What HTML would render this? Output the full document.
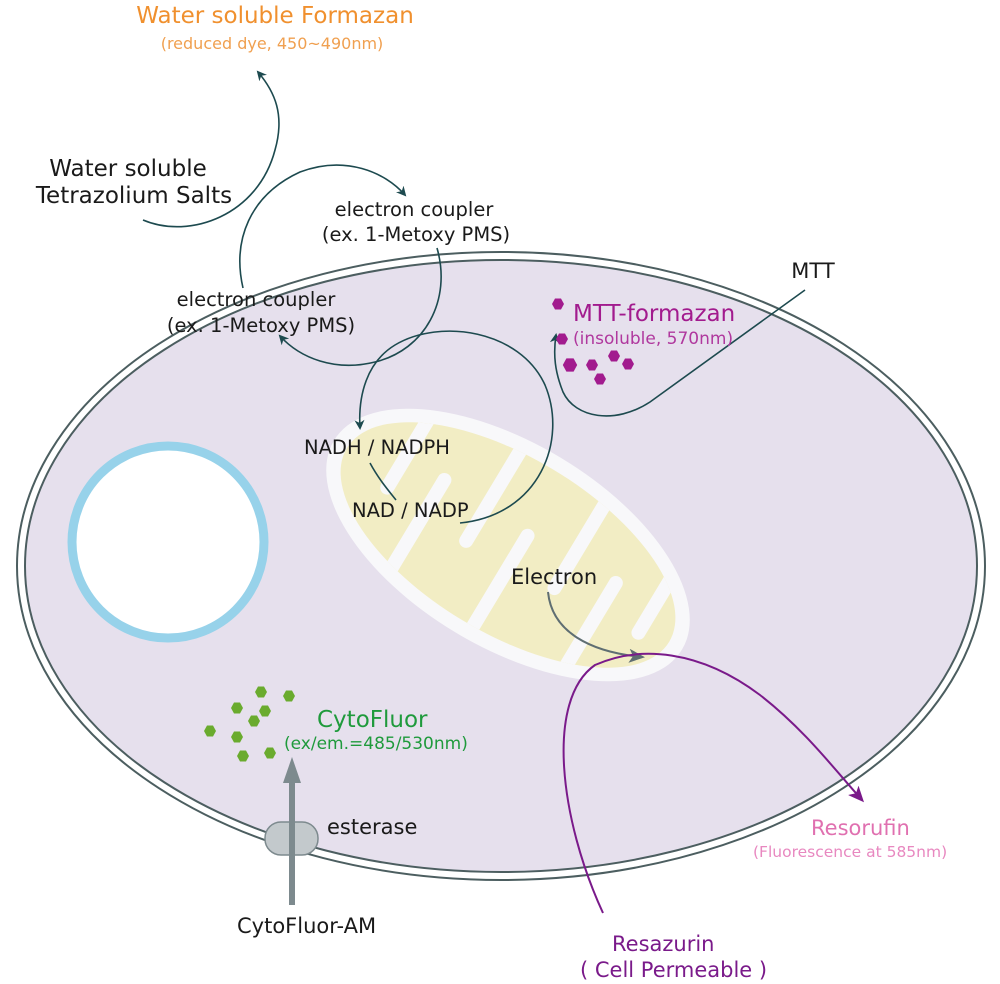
<!DOCTYPE html>
<html><head><meta charset="utf-8"><style>
html,body{margin:0;padding:0;background:#fff}
svg{display:block}
text{font-family:"DejaVu Sans","Liberation Sans",sans-serif}
</style></head><body>
<svg width="1000" height="984" viewBox="0 0 1000 984" xmlns="http://www.w3.org/2000/svg">
<defs>
<marker id="ad" markerWidth="10" markerHeight="10" refX="8" refY="5" orient="auto" markerUnits="userSpaceOnUse"><path d="M0,0 L10,5 L0,10 L3,5 Z" fill="#1d4a4f"/></marker>
<marker id="ag" markerWidth="16" markerHeight="14" refX="13" refY="7" orient="auto" markerUnits="userSpaceOnUse"><path d="M0,0 L16,7 L0,14 L4,7 Z" fill="#5f6e72"/></marker>
<marker id="ap" markerWidth="16" markerHeight="14" refX="13" refY="7" orient="auto" markerUnits="userSpaceOnUse"><path d="M0,0 L16,7 L0,14 L4,7 Z" fill="#7a1a8a"/></marker>
<clipPath id="mc"><ellipse cx="0" cy="0" rx="188" ry="88"/></clipPath>
<path id="hx" d="M-6,0 L-3,-5.5 L3,-5.5 L6,0 L3,5.5 L-3,5.5 Z"/>
</defs>
<!-- cell -->
<ellipse cx="501" cy="566" rx="484" ry="314" fill="none" stroke="#4c5e60" stroke-width="2"/>
<ellipse cx="501" cy="566" rx="479" ry="309" fill="none" stroke="#fff" stroke-width="5"/>
<ellipse cx="501" cy="566" rx="476" ry="306" fill="#e6e0ed" stroke="#4c5e60" stroke-width="2"/>
<!-- nucleus -->
<circle cx="168" cy="542" r="96" fill="#fff" stroke="#97d2ea" stroke-width="9"/>
<!-- mitochondrion -->
<g transform="translate(508,545) rotate(31)">
<ellipse cx="0" cy="0" rx="203" ry="102" fill="#f8f8fa"/>
<g clip-path="url(#mc)">
<rect x="-200" y="-100" width="400" height="200" fill="#f2edc4"/>
<g fill="#f8f8fa">
<rect x="-140" y="-110" width="14" height="130" rx="7"/>
<rect x="-95" y="-30" width="14" height="140" rx="7"/>
<rect x="-45" y="-110" width="14" height="135" rx="7"/>
<rect x="5" y="-25" width="14" height="140" rx="7"/>
<rect x="55" y="-110" width="14" height="130" rx="7"/>
<rect x="105" y="-30" width="14" height="140" rx="7"/>
<rect x="150" y="-110" width="14" height="125" rx="7"/>
</g>
</g>
</g>
<!-- esterase -->
<line x1="292" y1="905" x2="292" y2="775" stroke="#7d8a8e" stroke-width="6"/>
<path d="M283,783 L292,757 L301,783 Z" fill="#7d8a8e"/>
<rect x="265" y="822" width="53" height="33" rx="16" fill="#c3c9cc" stroke="#7d8a8e" stroke-width="1.5"/>
<line x1="292" y1="820" x2="292" y2="858" stroke="#7d8a8e" stroke-width="6"/>
<!-- curves dark -->
<g fill="none" stroke="#1d4a4f" stroke-width="1.6">
<path d="M143,220 C190,240 258,215 275,150 C285,115 275,92 258,72" marker-end="url(#ad)"/>
<path d="M243,288 C232,240 250,195 300,172 C345,155 385,172 405,195" marker-end="url(#ad)"/>
<path d="M437,248 C452,300 425,350 375,362 C335,372 300,358 280,336" marker-end="url(#ad)"/>
<path d="M460,523 C540,515 568,440 545,385 C520,330 440,318 395,345 C367,362 358,395 360,428" marker-end="url(#ad)"/>
<path d="M370,463 C378,478 388,490 396,500"/>
<path d="M805,290 L650,402 C615,425 575,418 563,392 C555,372 553,355 556,335" marker-end="url(#ad)"/>
</g>
<path d="M548,592 C552,632 590,652 642,657" fill="none" stroke="#5f6e72" stroke-width="2" marker-end="url(#ag)"/>
<path d="M603,913 C560,820 545,700 595,665 C640,645 700,650 760,695 C805,730 835,770 862,800" fill="none" stroke="#7a1a8a" stroke-width="2" marker-end="url(#ap)"/>
<!-- hexagons MTT -->
<g fill="#a21b8e">
<use href="#hx" x="558" y="304"/><use href="#hx" x="562" y="339"/>
<use href="#hx" transform="translate(570,365) scale(1.2)"/><use href="#hx" x="592" y="365"/><use href="#hx" x="614" y="356"/><use href="#hx" x="628" y="364"/><use href="#hx" x="600" y="379"/>
</g>
<g fill="#6aab2e">
<use href="#hx" x="261" y="692"/><use href="#hx" x="289" y="696"/><use href="#hx" x="237" y="708"/><use href="#hx" x="265" y="711"/><use href="#hx" x="254" y="721"/><use href="#hx" x="210" y="731"/><use href="#hx" x="237" y="737"/><use href="#hx" x="243" y="756"/><use href="#hx" x="270" y="753"/>
</g>
<!-- text -->
<text x="275" y="23" font-size="23" fill="#f0902e" text-anchor="middle">Water soluble Formazan</text>
<text x="272" y="49" font-size="16" fill="#f0a050" text-anchor="middle">(reduced dye, 450~490nm)</text>
<text x="128" y="176" font-size="23" fill="#1a1a1a" text-anchor="middle">Water soluble</text>
<text x="134" y="203" font-size="23" fill="#1a1a1a" text-anchor="middle">Tetrazolium Salts</text>
<text x="414" y="216" font-size="19.5" fill="#1a1a1a" text-anchor="middle">electron coupler</text>
<text x="416" y="241" font-size="19.5" fill="#1a1a1a" text-anchor="middle">(ex. 1-Metoxy PMS)</text>
<text x="256" y="306" font-size="19.5" fill="#1a1a1a" text-anchor="middle">electron coupler</text>
<text x="261" y="332" font-size="19.5" fill="#1a1a1a" text-anchor="middle">(ex. 1-Metoxy PMS)</text>
<text x="813" y="278" font-size="21" fill="#1a1a1a" text-anchor="middle">MTT</text>
<text x="573" y="321" font-size="23" fill="#a21b8e">MTT-formazan</text>
<text x="573" y="344" font-size="17" fill="#b0389e">(insoluble, 570nm)</text>
<text x="304" y="454" font-size="19.5" fill="#1a1a1a">NADH / NADPH</text>
<text x="352" y="517" font-size="19.5" fill="#1a1a1a">NAD / NADP</text>
<text x="511" y="584" font-size="21" fill="#1a1a1a">Electron</text>
<text x="317" y="727" font-size="23" fill="#1f9a3c">CytoFluor</text>
<text x="284" y="749" font-size="17" fill="#1f9a3c">(ex/em.=485/530nm)</text>
<text x="327" y="834" font-size="21" fill="#1a1a1a">esterase</text>
<text x="237" y="933" font-size="21" fill="#1a1a1a">CytoFluor-AM</text>
<text x="811" y="835" font-size="21" fill="#e070b0">Resorufin</text>
<text x="753" y="857" font-size="15.5" fill="#e888c0">(Fluorescence at 585nm)</text>
<text x="612" y="951" font-size="21" fill="#7a1a8a">Resazurin</text>
<text x="580" y="977" font-size="21" fill="#7a1a8a">( Cell Permeable )</text>
</svg>
</body></html>
